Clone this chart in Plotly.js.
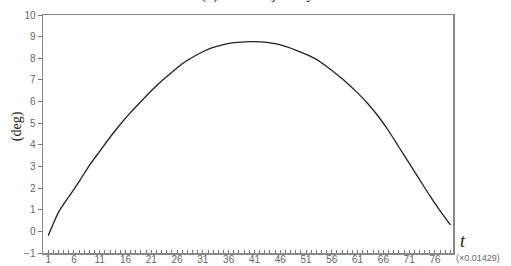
<!DOCTYPE html>
<html>
<head>
<meta charset="utf-8">
<script src="https://cdn.plot.ly/plotly-3.0.1.min.js"></script>
<style>html,body{margin:0;padding:0;background:#fff;}#chart{width:511px;height:266px;}</style>
</head>
<body>
<div id="chart"></div>
<script>
var timeSteps = [1,3,5,7,9,11,13,15,17,19,21,23,25,27,29,31,33,35,37,39,41,43,45,47,49,51,53,55,57,59,61,63,65,67,69,71,73,75,77,79];
var zmpDeg = [-0.2,0.88,1.6,2.3,3.05,3.7,4.35,4.95,5.5,6.0,6.5,6.95,7.35,7.75,8.05,8.3,8.5,8.63,8.72,8.76,8.77,8.75,8.68,8.55,8.38,8.18,7.95,7.62,7.25,6.85,6.4,5.9,5.32,4.65,3.9,3.15,2.4,1.65,0.95,0.3];
var xTickVals = [1,6,11,16,21,26,31,36,41,46,51,56,61,66,71,76];
var yTickVals = [-1,0,1,2,3,4,5,6,7,8,9,10];
var titleText = "(d) ZMP trajectory";
var yTitleText = "(deg)";
var xTitleText = "t";
var xScaleText = "(\u00d70.01429)";

var trace = {
  x: timeSteps, y: zmpDeg, type: 'scatter', mode: 'lines',
  line: {color: '#222', width: 1.3, shape: 'spline', smoothing: 0.6},
  hoverinfo: 'skip'
};
var tickFont = {family: 'Liberation Sans, Arial, sans-serif', size: 10, color: '#666'};
var layout = {
  width: 511, height: 266,
  margin: {l: 43, r: 58, t: 15, b: 13},
  paper_bgcolor: '#fff', plot_bgcolor: '#fff',
  showlegend: false,
  xaxis: {
    range: [0, 79.5], tickmode: 'array', tickvals: xTickVals,
    ticks: 'inside', ticklen: 3, tickcolor: '#777', tickwidth: 1,
    minor: {tickmode: 'linear', tick0: 0, dtick: 1, ticks: 'inside', ticklen: 3, tickcolor: '#777', tickwidth: 1, showgrid: false},
    showgrid: false, zeroline: false,
    showline: true, linecolor: '#888', linewidth: 1.5, mirror: true,
    tickfont: tickFont, ticklabelstandoff: -4
  },
  yaxis: {
    range: [-1, 10], tickmode: 'array', tickvals: yTickVals,
    ticks: 'outside', ticklen: 4, tickcolor: '#777', tickwidth: 1,
    showgrid: false, zeroline: false,
    showline: true, linecolor: '#888', linewidth: 1.5, mirror: true,
    tickfont: tickFont
  },
  annotations: [
    {text: titleText, xref: 'paper', yref: 'paper', x: 0.524, y: 1.04, xanchor: 'center', yanchor: 'bottom', showarrow: false,
     font: {family: 'Liberation Serif, Times New Roman, serif', size: 15, color: '#111'}},
    {text: yTitleText, xref: 'paper', yref: 'paper', x: -0.0634, y: 0.533, xanchor: 'center', yanchor: 'middle', textangle: -90, showarrow: false,
     font: {family: 'Liberation Serif, Times New Roman, serif', size: 14, color: '#222'}},
    {text: '<i>' + xTitleText + '</i>', xref: 'paper', yref: 'paper', x: 1.012, y: 0.05, xanchor: 'left', yanchor: 'middle', showarrow: false,
     font: {family: 'Liberation Serif, Times New Roman, serif', size: 18, color: '#222'}},
    {text: xScaleText, xref: 'paper', yref: 'paper', x: 1.003, y: -0.02, xanchor: 'left', yanchor: 'middle', showarrow: false,
     font: {family: 'Liberation Sans, Arial, sans-serif', size: 9, color: '#666'}}
  ]
};
Plotly.newPlot('chart', [trace], layout, {staticPlot: true, displayModeBar: false});
</script>
</body>
</html>
